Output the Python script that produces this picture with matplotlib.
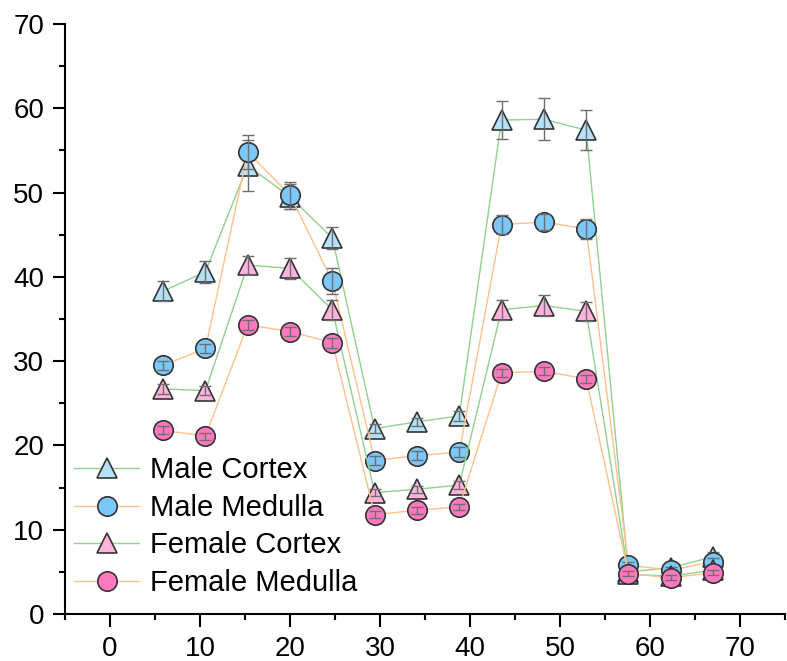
"""Cortex / medulla values for male and female groups, with error bars."""

import matplotlib

matplotlib.use("Agg")
import matplotlib.pyplot as plt
from matplotlib.ticker import MultipleLocator

x = [5.9, 10.6, 15.3, 20.0, 24.7, 29.4, 34.1, 38.8, 43.5, 48.2, 52.9, 57.6, 62.3, 67.0]

male_cortex = [38.3, 40.6, 53.2, 49.5, 44.6, 22.0, 22.8, 23.5, 58.6, 58.7, 57.4, 5.0, 5.5, 6.8]
male_cortex_err = [1.2, 1.3, 3.0, 1.5, 1.3, 0.5, 0.5, 0.6, 2.3, 2.5, 2.4, 0.5, 0.5, 0.6]

male_medulla = [29.5, 31.5, 54.8, 49.7, 39.5, 18.2, 18.8, 19.2, 46.2, 46.5, 45.7, 5.8, 5.2, 6.2]
male_medulla_err = [0.5, 0.5, 2.0, 1.6, 1.5, 0.5, 0.5, 0.6, 1.1, 1.0, 1.2, 0.4, 0.4, 0.4]

female_cortex = [26.7, 26.5, 41.4, 41.0, 36.1, 14.4, 14.8, 15.3, 36.1, 36.6, 35.9, 4.7, 4.5, 5.2]
female_cortex_err = [0.6, 0.5, 1.1, 1.2, 1.2, 0.4, 0.4, 0.5, 1.2, 1.2, 1.1, 0.3, 0.3, 0.3]

female_medulla = [21.8, 21.1, 34.3, 33.5, 32.2, 11.8, 12.3, 12.7, 28.6, 28.8, 27.9, 4.8, 4.3, 4.9]
female_medulla_err = [0.5, 0.4, 0.6, 0.5, 0.6, 0.4, 0.4, 0.4, 0.5, 0.5, 0.5, 0.3, 0.3, 0.3]

series = [
    ("Male Cortex", male_cortex, male_cortex_err, "^", "#b5e2fa", "#8fd18f"),
    ("Male Medulla", male_medulla, male_medulla_err, "o", "#7cc8fb", "#ffc08a"),
    ("Female Cortex", female_cortex, female_cortex_err, "^", "#ffb3dd", "#8fd18f"),
    ("Female Medulla", female_medulla, female_medulla_err, "o", "#ff79bf", "#ffc08a"),
]

plt.rcParams["font.family"] = ["Liberation Sans", "DejaVu Sans"]

fig = plt.figure(figsize=(7.87, 6.61), dpi=100)
ax = fig.add_axes([0.0826, 0.0711, 0.915, 0.8926])

for i, (name, vals, err, marker, fill, line) in enumerate(series):
    ax.plot(
        x, vals,
        color=line, linewidth=1.0,
        marker=marker, markersize=14,
        markerfacecolor=fill, markeredgecolor="#333333", markeredgewidth=1.2,
        label=name, zorder=2 + i,
    )
    ax.errorbar(
        x, vals, yerr=err, fmt="none",
        ecolor="#6e6e6e", elinewidth=1.0, capsize=4.5, capthick=1.0, zorder=2.5 + i,
    )

ax.set_xlim(-5, 75)
ax.set_ylim(0, 70)
ax.xaxis.set_major_locator(MultipleLocator(10))
ax.xaxis.set_minor_locator(MultipleLocator(5))
ax.yaxis.set_major_locator(MultipleLocator(10))
ax.yaxis.set_minor_locator(MultipleLocator(5))
ax.tick_params(which="major", direction="out", length=9, width=1.5, labelsize=20)
ax.tick_params(axis="y", which="major", pad=6)
ax.tick_params(axis="x", which="major", pad=7)
ax.tick_params(which="minor", direction="out", length=4.5, width=1.5)

for side in ("top", "right"):
    ax.spines[side].set_visible(False)
for side in ("left", "bottom"):
    ax.spines[side].set_linewidth(1.5)

ax.legend(
    loc="lower left", bbox_to_anchor=(0.0, 0.014), frameon=False,
    fontsize=21, handlelength=2.25, handletextpad=0.35, labelspacing=0.33,
    borderaxespad=0.0, borderpad=0.3,
)

fig.savefig("out.png", dpi=100)
